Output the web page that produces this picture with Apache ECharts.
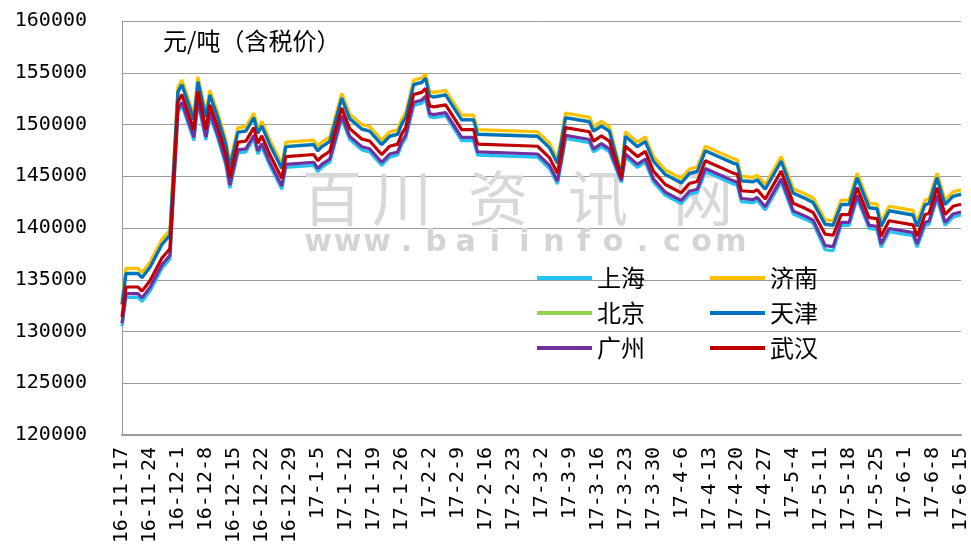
<!DOCTYPE html>
<html><head><meta charset="utf-8">
<script src="https://cdn.jsdelivr.net/npm/echarts@6/dist/echarts.min.js"></script>
<style>html,body{margin:0;padding:0;background:#fff}#c{width:971px;height:556px}</style>
</head><body><div id="c"></div>
<script>
const tickLabels = ['16-11-17','16-11-24','16-12-1','16-12-8','16-12-15','16-12-22','16-12-29','17-1-5','17-1-12','17-1-19','17-1-26','17-2-2','17-2-9','17-2-16','17-2-23','17-3-2','17-3-9','17-3-16','17-3-23','17-3-30','17-4-6','17-4-13','17-4-20','17-4-27','17-5-4','17-5-11','17-5-18','17-5-25','17-6-1','17-6-8','17-6-15'];
// day offsets from 16-11-17
const days = [0,1,4,5,7,10,12,14,15,18,19,21,22,24,26,27,29,31,33,34,35,37,40,41,48,49,50,52,55,57,60,62,65,67,69,70,71,73,75,76,77,78,81,85,88,89,104,107,109,110,111,117,118,120,122,125,126,129,131,133,136,140,142,144,146,153,154,155,158,159,161,165,168,171,173,176,178,180,182,184,187,189,190,192,198,199,201,202,204,206,208,210];
const seriesNames = ['上海','济南','北京','天津','广州','武汉'];
const shanghai = [130500,133300,133300,132900,133900,136100,137000,151150,151850,148450,152150,148500,150850,148650,146050,143850,147250,147350,148650,147150,147850,146050,143750,145850,146050,145450,145850,146350,150550,148550,147550,147350,146050,146850,147050,148050,148650,151850,152050,152450,150750,150650,150850,148450,148450,147050,146850,145750,144250,146350,148650,148250,147350,147850,147350,144400,146850,145850,146350,144450,143150,142350,143250,143450,145450,144250,144150,142550,142450,142650,141750,144450,141350,140850,140450,137900,137800,140250,140250,142850,139950,139850,138150,139650,139250,138150,140250,140350,142850,140250,141050,141250];
const jinan = [133000,136100,136100,135700,136700,138900,139800,153600,154300,150900,154600,151100,153300,151100,148500,146300,149700,149800,151100,149600,150300,148500,146200,148300,148500,147900,148300,148800,153000,151000,150000,149800,148500,149300,149500,150500,151100,154300,154500,154900,153200,153100,153300,150900,150900,149500,149300,148200,146700,148800,151100,150700,149800,150300,149800,145300,149300,148300,148800,146900,145600,144800,145700,145900,147900,146700,146600,145000,144900,145100,144200,146900,143800,143300,142900,140800,140700,142700,142700,145300,142400,142300,140600,142100,141700,140600,142700,142800,145300,142700,143500,143700];
const beijing = [132650,135650,135650,135250,136250,138450,139350,153200,153900,150500,154200,150750,152900,150700,148100,145900,149300,149400,150700,149200,149900,148100,145800,147900,148100,147500,147900,148400,152600,150600,149600,149400,148100,148900,149100,150100,150700,153900,154100,154500,152800,152700,152900,150500,150500,149100,148900,147800,146300,148400,150700,150300,149400,149900,149400,145050,148900,147900,148400,146500,145200,144400,145300,145500,147500,146300,146200,144600,144500,144700,143800,146500,143400,142900,142500,140400,140300,142300,142300,144900,142000,141900,140200,141700,141300,140200,142300,142400,144900,142300,143100,143300];
const tianjin = [132600,135600,135600,135200,136200,138400,139300,153150,153850,150450,154150,150700,152850,150650,148050,145850,149250,149350,150650,149150,149850,148050,145750,147850,148050,147450,147850,148350,152550,150550,149550,149350,148050,148850,149050,150050,150650,153850,154050,154450,152750,152650,152850,150450,150450,149050,148850,147750,146250,148350,150650,150250,149350,149850,149350,145000,148850,147850,148350,146450,145150,144350,145250,145450,147450,146250,146150,144550,144450,144650,143750,146450,143350,142850,142450,140350,140250,142250,142250,144850,141950,141850,140150,141650,141250,140150,142250,142350,144850,142250,143050,143250];
const guangzhou = [130800,133650,133650,133250,134250,136450,137350,151450,152150,148750,152450,148800,151150,148950,146350,144150,147550,147650,148950,147450,148150,146350,144050,146150,146350,145750,146150,146650,150850,148850,147850,147650,146350,147150,147350,148350,148950,152150,152350,152750,151050,150950,151150,148750,148750,147350,147150,146050,144550,146650,148950,148550,147650,148150,147650,144600,147150,146150,146650,144750,143450,142650,143550,143750,145750,144550,144450,142850,142750,142950,142050,144750,141650,141150,140750,138300,138200,140550,140550,143150,140250,140150,138450,139950,139550,138450,140550,140650,143150,140550,141350,141550];
const wuhan = [131400,134300,134300,133900,134900,137100,138000,152200,152900,149500,153200,149500,151900,149700,147100,144900,148300,148400,149700,148200,148900,147100,144800,146900,147100,146500,146900,147400,151600,149600,148600,148400,147100,147900,148100,149100,149700,152900,153100,153500,151800,151700,151900,149500,149500,148100,147900,146800,145300,147400,149700,149300,148400,148900,148400,144900,147900,146900,147400,145500,144200,143400,144300,144500,146500,145300,145200,143600,143500,143700,142800,145500,142400,141900,141500,139400,139300,141300,141300,143900,141000,140900,139200,140700,140300,139200,141300,141400,143900,141300,142100,142300];

const valueSets = [shanghai, jinan, beijing, tianjin, guangzhou, wuhan];
const colors = ['#22C3F2','#FFC000','#92D050','#0070C0','#7030A0','#C00000'];

const chart = echarts.init(document.getElementById('c'));
const series = seriesNames.map((n,k)=>({
  name:n, type:'line', showSymbol:false, symbol:'none', z: 3+k,
  lineStyle:{width:3.2,color:colors[k]}, itemStyle:{color:colors[k]},
  data: days.map((d,i)=>[d, valueSets[k][i]])
}));

const wmChars = ['百','川','资','讯','网'];
const wmX = [332,402,498,598,703];
const urlText = 'www.baiinfo.com';
const graphics = [];
wmChars.forEach((c,i)=>graphics.push({type:'text', x:wmX[i], y:198, z:1,
  style:{text:c, fill:'#d8d8d8', font:'60px "Noto Sans CJK SC"', align:'center', verticalAlign:'middle'}}));
for (let i=0;i<urlText.length;i++){
  graphics.push({type:'text', x:318+i*29.5, y:243, z:1,
    style:{text:urlText[i], fill:'#d4d4d4', font:'bold 30px "DejaVu Sans"', align:'center', verticalAlign:'middle'}});
}

const legendCommon = {orient:'vertical', icon:'rect', itemWidth:55, itemHeight:4, itemGap:11,
  textStyle:{fontFamily:'Noto Sans CJK SC', fontSize:24, color:'#000', lineHeight:24}, padding:0};

chart.setOption({
  animation:false,
  backgroundColor:'#fff',
  title:{text:'元/吨（含税价）', left:163, top:29, padding:0,
    textStyle:{fontFamily:'Noto Sans CJK SC', fontSize:24, fontWeight:'normal', color:'#000'}},
  legend:[
    Object.assign({left:537, top:266, data:['上海','北京','广州']}, legendCommon),
    Object.assign({left:710, top:266, data:['济南','天津','武汉']}, legendCommon)
  ],
  grid:{left:122, right:9, top:21, bottom:121},
  xAxis:{type:'value', min:0, max:210, interval:7,
    axisLine:{show:true, lineStyle:{color:'#999', width:2}},
    axisTick:{show:false}, splitLine:{show:false},
    axisLabel:{rotate:90, margin:12, fontFamily:'DejaVu Sans Mono', fontSize:20, color:'#000',
      formatter:(v)=>tickLabels[Math.round(v/7)] || ''}},
  yAxis:{type:'value', min:120000, max:160000, interval:5000,
    axisLine:{show:true, lineStyle:{color:'#999', width:1}},
    axisTick:{show:false},
    splitLine:{show:true, lineStyle:{color:'#9a9a9a', width:1}},
    axisLabel:{margin:35, fontFamily:'DejaVu Sans Mono', fontSize:20, color:'#000',
      formatter:(v)=>String(v)}},
  graphic:graphics,
  series:series
});
</script></body></html>
